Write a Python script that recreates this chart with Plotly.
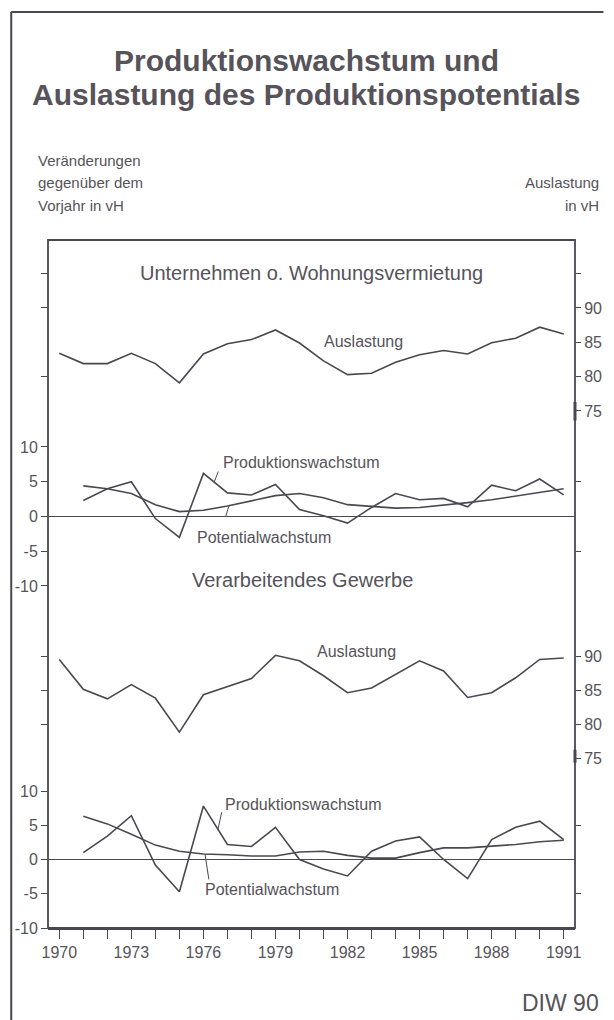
import plotly.graph_objects as go

# ---------------- data ----------------
years = list(range(1970, 1992))
years_g = list(range(1971, 1992))

# Unternehmen o. Wohnungsvermietung
ausl_untern = [83.4, 81.9, 81.9, 83.4, 81.9, 79.1, 83.3, 84.8, 85.4, 86.8, 84.9,
               82.3, 80.3, 80.5, 82.1, 83.2, 83.8, 83.3, 84.95, 85.6, 87.2, 86.2]
prod_untern = [2.3, 4.0, 5.0, -0.3, -3.0, 6.2, 3.4, 3.1, 4.6, 1.0, 0.1,
               -0.95, 1.3, 3.3, 2.4, 2.6, 1.4, 4.5, 3.7, 5.4, 3.1]
pot_untern = [4.4, 4.0, 3.3, 1.7, 0.7, 0.9, 1.5, 2.3, 3.0, 3.3, 2.7,
              1.7, 1.4, 1.2, 1.3, 1.6, 2.0, 2.4, 2.9, 3.5, 4.0]

# Verarbeitendes Gewerbe
ausl_verarb = [89.5, 85.1, 83.7, 85.8, 83.8, 78.8, 84.3, 85.5, 86.7, 90.1, 89.3,
               87.1, 84.6, 85.3, 87.3, 89.3, 87.8, 83.9, 84.6, 86.8, 89.5, 89.7]
prod_verarb = [1.0, 3.4, 6.4, -0.8, -4.7, 7.8, 2.2, 1.9, 4.7, 0.0, -1.4,
               -2.4, 1.2, 2.7, 3.3, 0.0, -2.8, 2.9, 4.7, 5.6, 2.9]
pot_verarb = [6.3, 5.2, 3.7, 2.1, 1.2, 0.8, 0.7, 0.5, 0.5, 1.1, 1.2,
              0.6, 0.2, 0.2, 1.0, 1.7, 1.7, 1.9, 2.2, 2.6, 2.8]

growth_ticks = [-10, -5, 0, 5, 10]
growth_text = ["-10", "-5", "0", "5", "10"]
ausl_ticks_u = [75, 80, 85, 90, 95]
ausl_text_u = ["75", "80", "85", "90", ""]
ausl_ticks_l = [75, 80, 85, 90]
ausl_text_l = ["75", "80", "85", "90"]
year_text = [str(y) if (y - 1970) % 3 == 0 else "" for y in years]

# ---------------- layout geometry (pixels) ----------------
W, H = 614, 1020
L, R, T, B = 47.5, 585.0, 240.0, 928.0


def px(x):
    return (x - L) / (R - L)


def py(y):
    return (B - y) / (B - T)


LINE = "#4b4751"
TEXT = "#56535a"
FONT = "Liberation Sans, Arial, Helvetica, sans-serif"

fig = go.Figure()


def add_line(x, y, yaxis):
    fig.add_trace(go.Scatter(x=x, y=y, mode="lines", xaxis="x", yaxis=yaxis,
                             line=dict(color=LINE, width=1.6),
                             hoverinfo="skip", showlegend=False))


add_line(years, ausl_untern, "y3")
add_line(years_g, pot_untern, "y2")
add_line(years_g, prod_untern, "y2")
add_line(years, ausl_verarb, "y4")
add_line(years_g, pot_verarb, "y")
add_line(years_g, prod_verarb, "y")

# empty traces so that the tick-only overlay axes are rendered
for ax in ["y5", "y6", "y7", "y8"]:
    fig.add_trace(go.Scatter(x=[], y=[], mode="lines", xaxis="x", yaxis=ax,
                             hoverinfo="skip", showlegend=False))

tickfont = dict(family=FONT, size=16, color=TEXT)

common_y = dict(showgrid=False, zeroline=False, ticks="outside", tickcolor=LINE,
                tickwidth=1, tickfont=tickfont, showline=False, anchor="x",
                fixedrange=True)

fig.update_layout(
    width=W, height=H, autosize=False,
    margin=dict(l=L, r=W - R, t=T, b=H - B, pad=0),
    paper_bgcolor="white", plot_bgcolor="white",
    font=dict(family=FONT, color=TEXT),
    xaxis=dict(domain=[0, 1], range=[1969.53, 1991.47], anchor="y",
               tickvals=years, ticktext=year_text, ticks="outside", ticklen=9,
               tickwidth=1, tickcolor=LINE, showline=True, linewidth=2,
               linecolor=LINE, showgrid=False, zeroline=False, tickfont=tickfont,
               fixedrange=True),
    # lower growth (left)
    yaxis=dict(common_y, domain=[0, 22 * 6.85 / 688], range=[-10, 12], side="left",
               tickvals=growth_ticks, ticktext=growth_text, ticklen=6,
               zeroline=True, zerolinecolor=LINE, zerolinewidth=1),
    # upper growth (left)
    yaxis2=dict(common_y, domain=[0.4769, 0.7244], range=[-12, 12.5], side="left",
                tickvals=growth_ticks, ticktext=growth_text, ticklen=6,
                zeroline=True, zerolinecolor=LINE, zerolinewidth=1),
    # upper Auslastung (right)
    yaxis3=dict(common_y, domain=[0.7315, 1.0], range=[73, 99.9], side="right",
                tickvals=ausl_ticks_u, ticktext=ausl_text_u, ticklen=5),
    # lower Auslastung (right)
    yaxis4=dict(common_y, domain=[0.2273, 0.4744], range=[73, 98], side="right",
                tickvals=ausl_ticks_l, ticktext=ausl_text_l, ticklen=5),
    # mirrored tick marks
    yaxis5=dict(common_y, overlaying="y2", range=[-12, 12.5], side="right",
                tickvals=[-5, 5], showticklabels=False, ticklen=5),
    yaxis6=dict(common_y, overlaying="y", range=[-10, 12], side="right",
                tickvals=[-5, 5], showticklabels=False, ticklen=5),
    yaxis7=dict(common_y, overlaying="y3", range=[73, 99.9], side="left",
                tickvals=[80, 90, 95], showticklabels=False, ticklen=6),
    yaxis8=dict(common_y, overlaying="y4", range=[73, 98], side="left",
                tickvals=[80, 85, 90], showticklabels=False, ticklen=6),
)

shapes = [
    # plot frame
    dict(type="rect", xref="paper", yref="paper", x0=0, x1=1, y0=0, y1=1,
         line=dict(color=LINE, width=1.8)),
    # outer border (left and top)
    dict(type="line", xref="paper", yref="paper", x0=px(10), x1=px(10),
         y0=py(12), y1=py(1020), line=dict(color=LINE, width=2)),
    dict(type="line", xref="paper", yref="paper", x0=px(10), x1=px(614),
         y0=py(12), y1=py(12), line=dict(color=LINE, width=2)),
    # axis break marks at 75
    dict(type="line", xref="paper", yref="y3", x0=1, x1=1, y0=73.6, y1=76.3,
         line=dict(color=LINE, width=3)),
    dict(type="line", xref="paper", yref="y4", x0=1, x1=1, y0=74.3, y1=76.2,
         line=dict(color=LINE, width=3)),
]
fig.update_layout(shapes=shapes)

ann = []


def text(x, y, s, size, xref="paper", yref="paper", xanchor="center",
         yanchor="middle", bold=False):
    ann.append(dict(x=x, y=y, xref=xref, yref=yref, text=f"<b>{s}</b>" if bold else s,
                    showarrow=False, xanchor=xanchor, yanchor=yanchor,
                    font=dict(family=FONT, size=size, color=TEXT)))


def leader(x, y, ax, ay, yref):
    ann.append(dict(x=x, y=y, xref="x", yref=yref, ax=ax, ay=ay, axref="x",
                    ayref=yref, text=" ", showarrow=True, arrowhead=0,
                    arrowwidth=1, arrowcolor=LINE, font=dict(size=1)))


# title
text(px(311), py(60), "Produktionswachstum und", 30, bold=True)
text(px(311), py(94), "Auslastung des Produktionspotentials", 30, bold=True)
# axis captions
text(px(35), py(160), "Veränderungen", 15, xanchor="left")
text(px(35), py(183), "gegenüber dem", 15, xanchor="left")
text(px(35), py(205), "Vorjahr in vH", 15, xanchor="left")
text(px(612), py(183), "Auslastung", 15, xanchor="right")
text(px(612), py(205), "in vH", 15, xanchor="right")
# panel titles
text(px(316), py(273), "Unternehmen o. Wohnungsvermietung", 20)
text(px(307), py(580), "Verarbeitendes Gewerbe", 20)
# series labels
text(1982.65, 85.1, "Auslastung", 16, xref="x", yref="y3")
text(1980.08, 7.8, "Produktionswachstum", 16, xref="x", yref="y2")
text(1978.53, -3.0, "Potentialwachstum", 16, xref="x", yref="y2")
text(1982.37, 90.6, "Auslastung", 16, xref="x", yref="y4")
text(1980.16, 8.0, "Produktionswachstum", 16, xref="x", yref="y")
text(1978.86, -4.4, "Potentialwachstum", 16, xref="x", yref="y")
# source
text(px(612), py(1003), "DIW 90", 23, xanchor="right")

leader(1976.45, 4.94, 1976.65, 6.76, "y2")
leader(1977.06, 1.5, 1976.9, -0.35, "y2")
leader(1976.6, 4.3, 1976.78, 7.2, "y")
leader(1976.07, 0.7, 1976.24, -3.2, "y")

fig.update_layout(annotations=ann)

fig.write_html("out.html", config={"displayModeBar": False},
               post_script="document.body.style.margin='0';")
